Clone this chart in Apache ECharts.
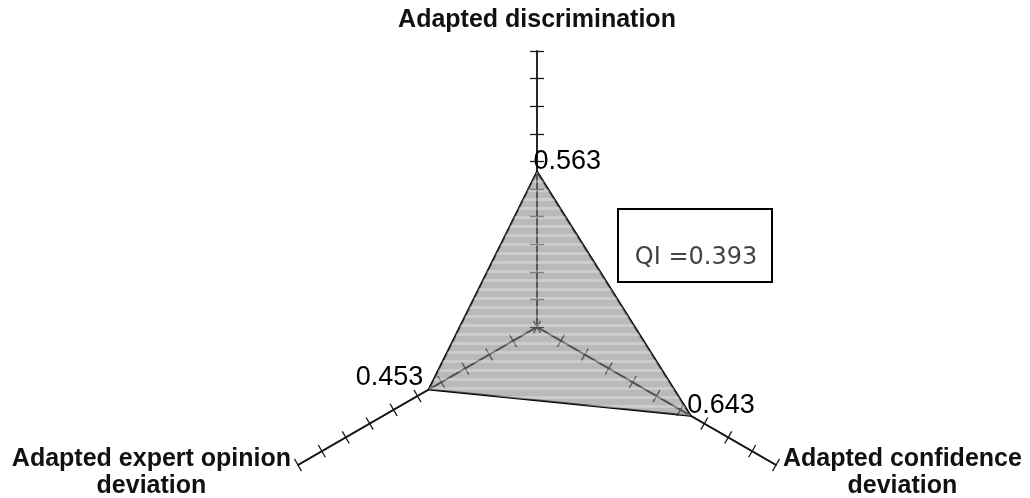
<!DOCTYPE html>
<html>
<head>
<meta charset="utf-8">
<script src="https://cdn.jsdelivr.net/npm/echarts@6/dist/echarts.min.js"></script>
<style>
html,body{margin:0;padding:0;background:#fff;}
#chart{width:1030px;height:498px;}
</style>
</head>
<body>
<div id="chart"></div>
<script>
// ---- data ----
const indicatorNames = ['Adapted discrimination', 'Adapted expert opinion\ndeviation', 'Adapted confidence\ndeviation'];
const qiValues = [0.563, 0.453, 0.643];
const labelSides = ['right', 'left', 'right'];
const axisMin = 0;
const axisMax = 1;
const axisSplits = 10;
const qiText = 'QI =0.393';

// ---- chart ----
const chart = echarts.init(document.getElementById('chart'));
const FONT = '"Liberation Sans", Arial, sans-serif';
const center = [537, 327];
const radius = 276;

function radarCfg(second) {
  return {
    center: center,
    radius: radius,
    startAngle: 90,
    splitNumber: axisSplits,
    shape: 'polygon',
    indicator: indicatorNames.map(n => ({ name: n, min: axisMin, max: axisMax })),
    axisName: {
      show: !second,
      color: '#111',
      fontFamily: FONT,
      fontSize: 25,
      fontWeight: 'bold',
      padding: [17, 0, 9, 0],
      formatter: name => name.split('\n').map(s => '{c|' + s + '}').join('\n'),
      rich: { c: { align: 'center', fontFamily: FONT, fontSize: 25, fontWeight: 'bold', lineHeight: 27, color: '#111' } }
    },
    nameGap: 8,
    axisLine: { show: true, lineStyle: { color: '#1a1a1a', width: 1.5 } },
    axisTick: { show: true, length: second ? -7 : 7, lineStyle: { color: '#1a1a1a', width: 1.3 } },
    axisLabel: { show: false },
    splitLine: { show: false },
    splitArea: { show: false }
  };
}

function labelSeries(side) {
  return {
    type: 'radar',
    radarIndex: 0,
    silent: true,
    z: 5,
    symbol: 'circle',
    symbolSize: 1,
    itemStyle: { color: 'rgba(0,0,0,0)' },
    lineStyle: { width: 0, opacity: 0 },
    data: [{ value: qiValues }],
    label: {
      show: true,
      position: side === 'right' ? [-3, -10] : [-5, -11],
      align: side === 'right' ? 'left' : 'right',
      verticalAlign: 'middle',
      color: '#000',
      fontFamily: FONT,
      fontSize: 27,
      formatter: p => {
        const v = Array.isArray(p.value) ? null : p.value;
        const i = qiValues.indexOf(v);
        return (i >= 0 && labelSides[i] === side) ? String(v) : '';
      }
    }
  };
}

chart.setOption({
  backgroundColor: '#fff',
  animation: false,
  radar: [radarCfg(false), radarCfg(true)],
  series: [
    {
      type: 'radar',
      radarIndex: 0,
      symbol: 'none',
      z: 3,
      lineStyle: { color: '#000', width: 2 },
      itemStyle: {
        color: '#000',
        decal: {
          symbol: 'rect',
          symbolSize: 1,
          dashArrayX: [[1, 0]],
          dashArrayY: [3, 6],
          rotation: 0,
          color: 'rgba(255,255,255,0.28)'
        }
      },
      areaStyle: { color: 'rgba(128,128,128,0.55)', opacity: 1 },
      data: [{ value: qiValues }]
    },
    labelSeries('right'),
    labelSeries('left')
  ],
  graphic: [
    {
      type: 'rect',
      shape: { x: 618, y: 209, width: 154, height: 73 },
      style: { fill: '#fff', stroke: '#000', lineWidth: 2 }
    },
    {
      type: 'text',
      x: 696, y: 258,
      style: { text: qiText, fill: '#444', font: '24px "DejaVu Sans", sans-serif', textAlign: 'center', textVerticalAlign: 'middle' }
    }
  ]
});
</script>
</body>
</html>
